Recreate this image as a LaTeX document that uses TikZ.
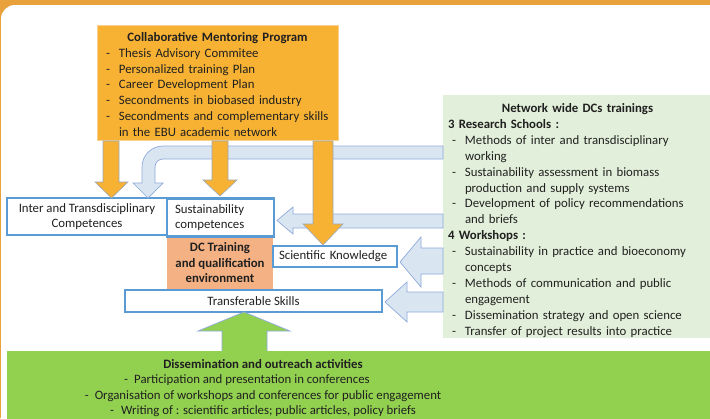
\documentclass[tikz,border=0pt]{standalone}
\usepackage{fontspec}
\setmainfont{Carlito}
\definecolor{bandorange}{HTML}{E9A23B}
\definecolor{cmpfill}{HTML}{F7B133}
\definecolor{cmpline}{HTML}{F9D08E}
\definecolor{salmon}{HTML}{F4B183}
\definecolor{boxblue}{HTML}{5B9BD5}
\definecolor{arrfill}{HTML}{DAE5F2}
\definecolor{arrline}{HTML}{8FAADC}
\definecolor{oarrline}{HTML}{9AA9BD}
\definecolor{palegreen}{HTML}{E2EFDA}
\definecolor{leafgreen}{HTML}{92D050}
\definecolor{txt}{HTML}{202020}
\newcommand{\dashitem}[2][0pt]{\par\noindent\hangindent=\dimexpr#1+13pt\relax\hangafter=1\hspace*{#1}\makebox[13pt][l]{-}#2\par}
\begin{document}
\begin{tikzpicture}[x=1pt,y=-1pt,
  every node/.style={font=\fontsize{12.8}{15.5}\selectfont, text=txt, inner sep=0pt},
  bluebox/.style={draw=boxblue, line width=2.2pt, fill=white},
  barrow/.style={fill=arrfill, draw=arrline, line width=0.7pt},
  oarrow/.style={fill=cmpfill, draw=oarrline, line width=0.6pt},
  garrow/.style={fill=leafgreen, draw=arrline, line width=0.7pt},
  cmpbox/.style={fill=cmpfill, draw=cmpline, line width=0.8pt, minimum width=241pt, minimum height=115pt, text width=223pt, align=left, font=\fontsize{12.8}{15.8}\selectfont},
  netbox/.style={fill=palegreen, minimum width=269pt, minimum height=243pt, text width=259pt, align=left, font=\fontsize{12.8}{15.9}\selectfont},
  dissbox/.style={fill=leafgreen, minimum width=705pt, minimum height=69pt},
  dcbox/.style={fill=salmon, minimum width=106pt, minimum height=54pt, align=center, font=\fontsize{12.8}{15.5}\selectfont\bfseries}
]
\useasboundingbox (0,0) rectangle (710,418);
% background
\fill[bandorange] (0,0) rectangle (710,418);
\fill[white, rounded corners=14pt] (1,5) rectangle (740,450);

% right green training box
\node[netbox] (net) at (577.5,216.5) {};
\node[text width=259pt, align=left, font=\fontsize{12.8}{15.9}\selectfont] (nettext) at (577.5,220.5) {{\centering\bfseries Network wide DCs trainings\par}
\noindent\textbf{3 Research Schools :}\par
\dashitem[4pt]{Methods of inter and transdisciplinary\newline working}
\dashitem[4pt]{Sustainability assessment in biomass\newline production and supply systems}
\dashitem[4pt]{Development of policy recommendations\newline and briefs}
\noindent\textbf{4 Workshops :}\par
\dashitem[4pt]{Sustainability in practice and bioeconomy\newline concepts}
\dashitem[4pt]{Methods of communication and public\newline engagement}
\dashitem[4pt]{Dissemination strategy and open science}
\dashitem[4pt]{Transfer of project results into practice}};

% mentoring box
\node[cmpbox] (cmp) at (217.5,82.5) {};
\node[text width=223pt, align=left, font=\fontsize{12.8}{15.8}\selectfont] (cmptext) at (217.5,84.5) {{\centering\bfseries Collaborative Mentoring Program\par}
\dashitem{Thesis Advisory Commitee}
\dashitem{Personalized training Plan}
\dashitem{Career Development Plan}
\dashitem{Secondments in biobased industry}
\dashitem{Secondments and complementary skills\newline in the EBU academic network}};

% central boxes
\node[dcbox] (dc) at (220,263) {DC Training\\and qualification\\environment};
\node[bluebox, minimum width=160pt, minimum height=37pt, align=center, font=\fontsize{12.8}{15}\selectfont] (inter) at (87,216.5) {Inter and Transdisciplinary\\Competences};
\node[bluebox, minimum width=107pt, minimum height=38pt, text width=91pt, align=left, font=\fontsize{12.8}{15}\selectfont] (sust) at (220.5,217.5) {Sustainability\\competences};
\node[bluebox, minimum width=124pt, minimum height=21pt, text width=112pt, align=left] (sci) at (335,256.5) {Scientific Knowledge};
\node[bluebox, minimum width=257pt, minimum height=22pt] (trans) at (253.5,301) {Transferable Skills};

% light blue arrows from the trainings box
\draw[barrow] (443,146) -- (163,146) arc[start angle=270, end angle=180, radius=21] -- (142,183) -- (133,183) -- (148,198) -- (163,183) -- (155,183) -- (155,167) arc[start angle=180, end angle=270, radius=8] -- (443,159) -- cycle;
\draw[barrow] (443,214) -- (293,214) -- (293,207) -- (277,220.5) -- (293,234) -- (293,228) -- (443,228) -- cycle;
\draw[barrow] (443,248) -- (421,248) -- (421,237) -- (400,262) -- (421,287) -- (421,274) -- (443,274) -- cycle;
\draw[barrow] (443,292) -- (407,292) -- (407,282) -- (385,302) -- (407,322) -- (407,312) -- (443,312) -- cycle;

% orange arrows from mentoring box
\draw[oarrow] (103,141) -- (119,141) -- (119,182) -- (128,182) -- (111.5,198) -- (95,182) -- (103,182) -- cycle;
\draw[oarrow] (212,141) -- (228,141) -- (228,180) -- (237,180) -- (220,196) -- (203,180) -- (212,180) -- cycle;
\draw[oarrow] (313,141) -- (333,141) -- (333,224) -- (343,224) -- (323,245) -- (303,224) -- (313,224) -- cycle;

% green up arrow
\draw[garrow] (222,353) -- (222,331) -- (198,331) -- (244,312) -- (290,331) -- (267,331) -- (267,353) -- cycle;

% dissemination box
\node[dissbox, anchor=north west] (diss) at (7,351) {};
\node[align=center, font=\fontsize{12.8}{15.6}\selectfont] (disstext) at (263,388) {\textbf{Dissemination and outreach activities}\\
\makebox[10pt][l]{-}Participation and presentation in conferences\hspace*{32pt}\null\\
\makebox[10pt][l]{-}Organisation of workshops and conferences for public engagement\\
\makebox[11pt][l]{-}Writing of : scientific articles; public articles, policy briefs};
\end{tikzpicture}
\end{document}
